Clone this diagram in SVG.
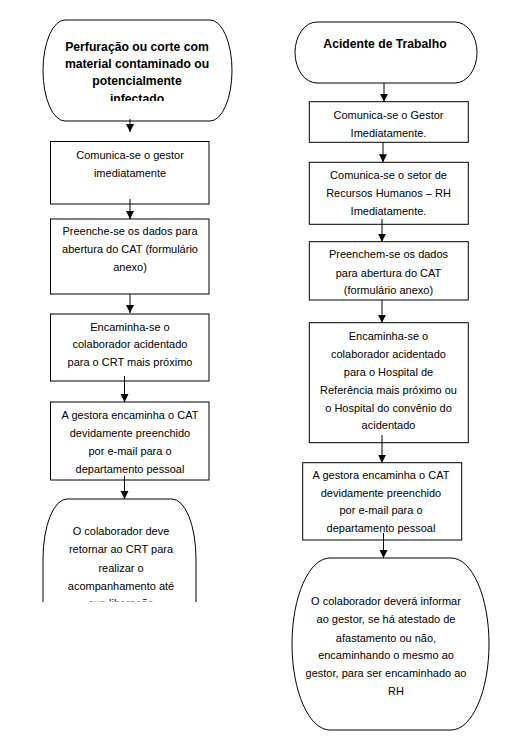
<svg xmlns="http://www.w3.org/2000/svg" width="522" height="755" viewBox="0 0 522 755">
<style>
.shape{fill:#fff;stroke:#000;stroke-width:1}
.t{font-family:"Liberation Sans",Arial,sans-serif;font-size:11px;fill:#000;text-anchor:middle}
.b{font-family:"Liberation Sans",Arial,sans-serif;font-size:12.2px;font-weight:bold;fill:#000;text-anchor:middle}
.c{stroke:#000;stroke-width:1;fill:none;marker-end:url(#ah)}
</style>
<defs>
<marker id="ah" markerUnits="userSpaceOnUse" markerWidth="9" markerHeight="9" refX="8" refY="4" orient="auto">
<path d="M0,0 L8,4 L0,8 z" fill="#000"/>
</marker>
<clipPath id="clipT1"><rect x="40" y="15" width="200" height="86"/></clipPath>
<clipPath id="clipT2"><rect x="40" y="495" width="200" height="106.5"/></clipPath>
</defs>
<rect width="522" height="755" fill="#fff"/>

<g id="left-start">
<rect class="shape" x="43" y="20" width="189" height="101" rx="22" ry="50.5"/>
<g clip-path="url(#clipT1)">
<text class="b" x="137" y="50.5">Perfuração ou corte com</text>
<text class="b" x="137" y="67.5">material contaminado ou</text>
<text class="b" x="137" y="84.5">potencialmente</text>
<text class="b" x="137" y="102.5">infectado</text>
</g>
</g>

<g id="left-1">
<rect class="shape" x="50.5" y="141.5" width="158.5" height="62.5"/>
<text class="t" x="130" y="159">Comunica-se o gestor</text>
<text class="t" x="130" y="177">imediatamente</text>
</g>

<g id="left-2">
<rect class="shape" x="50.5" y="219" width="158.5" height="75"/>
<text class="t" x="130" y="235">Preenche-se os dados para</text>
<text class="t" x="130" y="253">abertura do CAT (formulário</text>
<text class="t" x="130" y="271">anexo)</text>
</g>

<g id="left-3">
<rect class="shape" x="50.5" y="314" width="158.5" height="67"/>
<text class="t" x="130" y="330.5">Encaminha-se o</text>
<text class="t" x="130" y="348.3">colaborador acidentado</text>
<text class="t" x="130" y="366">para o CRT mais próximo</text>
</g>

<g id="left-4">
<rect class="shape" x="50.5" y="402" width="158.5" height="78"/>
<text class="t" x="130" y="419">A gestora encaminha o CAT</text>
<text class="t" x="130" y="437.3">devidamente preenchido</text>
<text class="t" x="130" y="455">por e-mail para o</text>
<text class="t" x="130" y="472.7">departamento pessoal</text>
</g>

<g id="left-end">
<path class="shape" d="M43,602 L43,559 A24,60 0 0 1 67,499 L172,499 A24,60 0 0 1 196,559 L196,602"/>
<g clip-path="url(#clipT2)">
<text class="t" x="121" y="535">O colaborador deve</text>
<text class="t" x="121" y="553.3">retornar ao CRT para</text>
<text class="t" x="121" y="571.7">realizar o</text>
<text class="t" x="121" y="590">acompanhamento até</text>
<text class="t" x="121" y="606.5">sua liberação</text>
</g>
</g>

<g id="right-start">
<rect class="shape" x="295" y="22" width="182" height="61" rx="22" ry="30.5"/>
<text class="b" x="385" y="48.3">Acidente de Trabalho</text>
</g>

<g id="right-1">
<rect class="shape" x="309.3" y="101.7" width="159" height="40.6"/>
<text class="t" x="388.5" y="119">Comunica-se o Gestor</text>
<text class="t" x="388.5" y="136.7">Imediatamente.</text>
</g>

<g id="right-2">
<rect class="shape" x="309.3" y="162.3" width="159" height="62"/>
<text class="t" x="388.5" y="179.3">Comunica-se o setor de</text>
<text class="t" x="388.5" y="196.7">Recursos Humanos – RH</text>
<text class="t" x="388.5" y="215">Imediatamente.</text>
</g>

<g id="right-3">
<rect class="shape" x="309.3" y="241.7" width="159" height="58.3"/>
<text class="t" x="388.5" y="258.3">Preenchem-se os dados</text>
<text class="t" x="388.5" y="276.7">para abertura do CAT</text>
<text class="t" x="388.5" y="294.3">(formulário anexo)</text>
</g>

<g id="right-4">
<rect class="shape" x="309.3" y="322.7" width="159" height="120"/>
<text class="t" x="388.5" y="340">Encaminha-se o</text>
<text class="t" x="388.5" y="357.7">colaborador acidentado</text>
<text class="t" x="388.5" y="376">para o Hospital de</text>
<text class="t" x="388.5" y="394">Referência mais próximo ou</text>
<text class="t" x="388.5" y="411.7">o Hospital do convênio do</text>
<text class="t" x="388.5" y="429.3">acidentado</text>
</g>

<g id="right-5">
<rect class="shape" x="302.7" y="462.7" width="159" height="77.3"/>
<text class="t" x="381" y="479">A gestora encaminha o CAT</text>
<text class="t" x="381" y="496.7">devidamente preenchido</text>
<text class="t" x="381" y="514.3">por e-mail para o</text>
<text class="t" x="381" y="532.3">departamento pessoal</text>
</g>

<g id="right-end">
<rect class="shape" x="292" y="558" width="197" height="172" rx="38" ry="86"/>
<text class="t" x="386" y="605">O colaborador deverá informar</text>
<text class="t" x="386" y="623.3">ao gestor, se há atestado de</text>
<text class="t" x="386" y="641.7">afastamento ou não,</text>
<text class="t" x="386" y="659.3">encaminhando o mesmo ao</text>
<text class="t" x="386" y="677.3">gestor, para ser encaminhado ao</text>
<text class="t" x="396" y="695">RH</text>
</g>

<g id="connectors">
<path class="c" d="M130,119 L130,132"/>
<path class="c" d="M130,199 L130,219"/>
<path class="c" d="M130,294 L130,313"/>
<path class="c" d="M124.5,376 L124.5,402"/>
<path class="c" d="M124.5,476 L124.5,499"/>
<path class="c" d="M384,83 L384,101.7"/>
<path class="c" d="M383,142.3 L383,162.3"/>
<path class="c" d="M382,219 L382,241.7"/>
<path class="c" d="M382,300 L382,322.7"/>
<path class="c" d="M382,435 L382,462.7"/>
<path class="c" d="M383.5,533 L383.5,558"/>
</g>
</svg>
